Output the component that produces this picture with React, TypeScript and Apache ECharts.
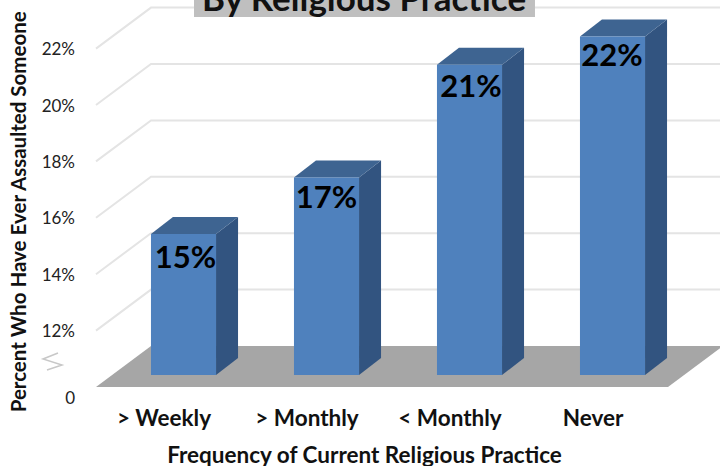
import React, { useEffect, useRef } from "react";
import * as echarts from "echarts";

const categories = ["> Weekly", "> Monthly", "< Monthly", "Never"];
const values = [15, 17, 21, 22];
const wallTicks = [12, 14, 16, 18, 20, 22];
const AXIS_BASE = 10;
const AXIS_TOP = 22;
const DEPTH_X = 55;
const DEPTH_Y = 41;

export default function App() {
  const ref = useRef<HTMLDivElement>(null);
  useEffect(() => {
    const chart = echarts.init(ref.current!, null, { renderer: "svg" });
    const font = "Lato, Carlito, sans-serif";
    const labelNudgeX = [2, 0, 1.5, -0.5];
    const labelNudgeY = [22, 18, 20, 17];
    chart.setOption({
      animation: false,
      backgroundColor: "#fff",
      title: {
        text: "By Religious Practice",
        left: 194,
        top: -25,
        padding: [4, 8, 3, 8],
        backgroundColor: "#bfbfbf",
        textStyle: { fontFamily: font, fontWeight: "bold", fontSize: 35, color: "#111" },
      },
      grid: { left: 96, right: 52, top: 48.6, bottom: 79, containLabel: false, outerBoundsMode: "none" },
      xAxis: {
        type: "category",
        data: categories,
        axisLine: { show: false },
        axisTick: { show: false },
        axisLabel: { fontFamily: font, fontWeight: "bold", fontSize: 22.5, color: "#111", margin: 19, padding: [0, 7, 0, 0] },
        name: "Frequency of Current Religious Practice",
        nameLocation: "middle",
        nameGap: 56,
        nameTextStyle: { fontFamily: font, fontWeight: "bold", fontSize: 22.5, color: "#111", padding: [0, 35, 0, 0] },
      },
      yAxis: {
        type: "value",
        min: AXIS_BASE,
        max: AXIS_TOP,
        interval: 2,
        splitLine: { show: false },
        axisLine: { show: false },
        axisTick: { show: false },
        axisLabel: {
          fontFamily: font,
          fontSize: 17,
          color: "#222",
          margin: 21,
          formatter: (v: number) => (v === AXIS_BASE ? "{z|0}" : v + "%"),
          rich: { z: { fontFamily: font, fontSize: 17, color: "#222", padding: [20, 0, 0, 0] } },
        },
        name: "Percent Who Have Ever Assaulted Someone",
        nameLocation: "middle",
        nameGap: 68,
        nameTextStyle: { fontFamily: font, fontWeight: "bold", fontSize: 20.5, color: "#111", padding: [0, 0, 0, 12] },
      },
      graphic: [
        {
          type: "polyline",
          shape: { points: [[58, 353], [43, 359], [62, 365], [47, 370]] },
          style: { stroke: "#c8c8c8", lineWidth: 1.5, fill: "none" },
        },
      ],
      series: [
        {
          type: "custom",
          coordinateSystem: "cartesian2d",
          clip: false,
          z: 1,
          data: wallTicks.map((t) => [0, t]),
          renderItem: (_p: any, api: any) => {
            const y = api.coord([0, api.value(1)])[1];
            const band = api.size([1, 0])[0];
            const x0 = api.coord([0, AXIS_BASE])[0] - band / 2;
            const x1 = x0 + band * categories.length;
            return {
              type: "polyline",
              shape: { points: [[x0, y], [x0 + DEPTH_X, y - DEPTH_Y], [x1 + DEPTH_X, y - DEPTH_Y]] },
              style: { stroke: "#e4e4e4", lineWidth: 2, fill: "none" },
            };
          },
        },
        {
          type: "custom",
          coordinateSystem: "cartesian2d",
          clip: false,
          z: 2,
          data: [[0, AXIS_BASE]],
          renderItem: (_p: any, api: any) => {
            const y = api.coord([0, AXIS_BASE])[1];
            const band = api.size([1, 0])[0];
            const x0 = api.coord([0, AXIS_BASE])[0] - band / 2;
            const x1 = x0 + band * categories.length;
            return {
              type: "polygon",
              shape: { points: [[x0, y], [x1, y], [x1 + DEPTH_X, y - DEPTH_Y], [x0 + DEPTH_X, y - DEPTH_Y]] },
              style: { fill: "#a6a6a6" },
            };
          },
        },
        {
          type: "custom",
          coordinateSystem: "cartesian2d",
          clip: false,
          z: 3,
          data: values.map((v, i) => [i, v]),
          renderItem: (_p: any, api: any) => {
            const idx = api.value(0);
            const val = api.value(1);
            const c = api.coord([idx, val]);
            const band = api.size([1, 0])[0];
            const w = band * 0.455;
            const dx = 16;
            const dy = 12;
            const sx = 22;
            const sy = 17;
            const l = c[0] + dx - w / 2;
            const r = l + w;
            const t = c[1] - dy;
            const b = api.coord([0, AXIS_BASE])[1] - dy;
            return {
              type: "group",
              children: [
                { type: "polygon", shape: { points: [[r, t], [r + sx, t - sy], [r + sx, b - sy], [r, b]] }, style: { fill: "#325480" } },
                { type: "polygon", shape: { points: [[l, t], [r, t], [r + sx, t - sy], [l + sx, t - sy]] }, style: { fill: "#3e6491" } },
                { type: "rect", shape: { x: l, y: t, width: w, height: b - t }, style: { fill: "#4f81bd" } },
                {
                  type: "text",
                  x: l + w / 2 + labelNudgeX[idx],
                  y: t + labelNudgeY[idx],
                  style: {
                    text: val + "%",
                    fontFamily: font,
                    fontWeight: "bold",
                    fontSize: 31,
                    fill: "#000",
                    align: "center",
                    verticalAlign: "middle",
                  },
                },
              ],
            };
          },
        },
      ],
    });
    return () => chart.dispose();
  }, []);
  return <div ref={ref} style={{ position: "absolute", left: 0, top: 0, width: 720, height: 466 }} />;
}
